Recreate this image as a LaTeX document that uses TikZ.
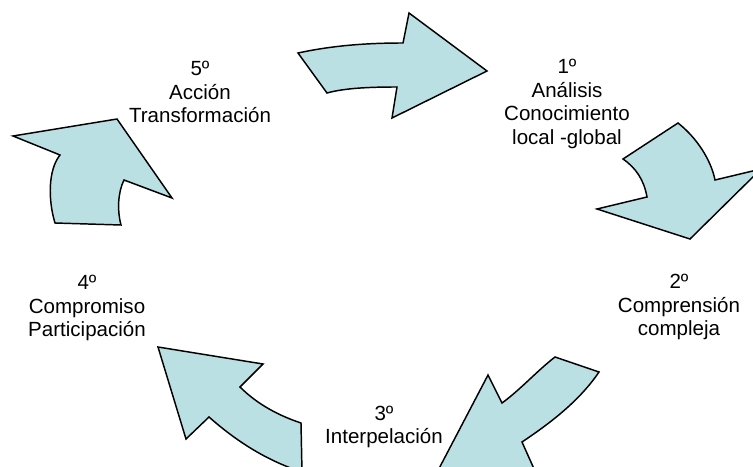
\documentclass[tikz,border=0pt]{standalone}
\usepackage{fontspec}
\setmainfont{Liberation Sans}
\definecolor{arrowfill}{RGB}{186,224,227}
\begin{document}
\begin{tikzpicture}[x=0.75pt,y=-0.75pt,
  cyclearrow/.style={fill=arrowfill,draw=black,line width=1.1pt,line join=miter},
  stagelabel/.style={align=center,inner sep=0pt,font=\fontsize{15.4}{17.7}\selectfont}]
\useasboundingbox (0,0) rectangle (753,467);
\clip (0,0) rectangle (753,467);

% curved block arrows around the cycle
\path[cyclearrow] (298,53) .. controls (335,45) and (370,43) .. (403,43)
  -- (409,13) -- (487,71) -- (392,118) -- (397,87)
  .. controls (370,87) and (345,88) .. (327,93) -- cycle;

\path[cyclearrow] (678,123) .. controls (697,138) and (711,160) .. (715,180)
  -- (761,169) -- (690,239) -- (597,209) -- (647,197)
  .. controls (644,180) and (636,168) .. (623,159) -- cycle;

\path[cyclearrow] (555,357) -- (599,372)
  .. controls (580,400) and (552,422) .. (522,442)
  -- (539,480) -- (433,480) -- (488,375) -- (502,403)
  .. controls (520,390) and (538,370) .. (555,357) -- cycle;

\path[cyclearrow] (158,347) -- (263,364) -- (240,387)
  .. controls (258,405) and (280,416) .. (301,423)
  -- (302,472) .. controls (265,460) and (235,440) .. (209,417)
  -- (186,439) -- cycle;

\path[cyclearrow] (13,136) -- (117,119) -- (172,198) -- (124,180)
  .. controls (118,192) and (117,210) .. (121,225)
  -- (55,223) .. controls (48,200) and (48,170) .. (60,155) -- cycle;

% stage labels
\node[stagelabel] (s1) at (567,104) {1º\\Análisis\\Conocimiento\\local -global};
\node[stagelabel] (s2) at (679,307) {2º\\Comprensión\\compleja};
\node[stagelabel] (s3) at (384,427) {3º\\Interpelación};
\node[stagelabel] (s4) at (87,308) {4º\\Compromiso\\Participación};
\node[stagelabel] (s5) at (200,92) {5º\\Acción\\Transformación};
\end{tikzpicture}
\end{document}
